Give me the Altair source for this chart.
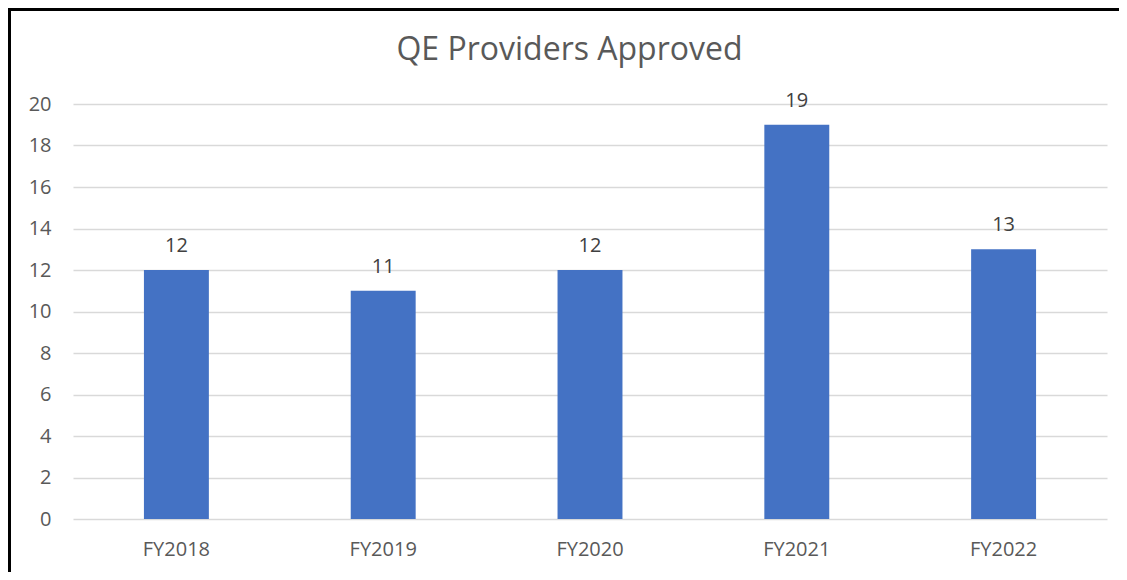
import altair as alt
import pandas as pd

years = ["FY2018", "FY2019", "FY2020", "FY2021", "FY2022"]
approved = [12, 11, 12, 19, 13]
title_text = ["QE Providers Approved"]

df = pd.DataFrame({"year": years, "count": approved})

FONT = "Open Sans"
W, H = 1034, 415
PAD_L, PAD_T, PAD_R, PAD_B = 65, 96, 12, 53

base = alt.Chart(df)

x_enc = alt.X(
    "year:N",
    sort=years,
    title=None,
    scale=alt.Scale(paddingInner=0.686, paddingOuter=0.343),
    axis=alt.Axis(
        labelAngle=0,
        labelFont=FONT,
        labelFontSize=20,
        labelColor="#595959",
        labelPadding=20,
        ticks=False,
        domain=False,
        grid=False,
    ),
)
y_enc = alt.Y(
    "count:Q",
    title=None,
    scale=alt.Scale(domain=[0, 20], nice=False),
    axis=alt.Axis(
        values=list(range(0, 21, 2)),
        labelFont=FONT,
        labelFontSize=20,
        labelColor="#595959",
        labelPadding=22,
        ticks=False,
        domain=False,
        grid=True,
        gridColor="#D9D9D9",
        gridWidth=1.3,
    ),
)

bars = base.mark_bar(color="#4472C4").encode(x=x_enc, y=y_enc)

labels = base.mark_text(
    font=FONT, fontSize=20, color="#404040", baseline="alphabetic", dy=-18
).encode(x=alt.X("year:N", sort=years), y="count:Q", text="count:Q")

frame_data = alt.Data(values=[{"k": 1}])
left_border = alt.Chart(frame_data).mark_rule(color="black", strokeWidth=3).encode(
    x=alt.value(-PAD_L + 1.5), y=alt.value(-PAD_T), y2=alt.value(H + PAD_B)
)
top_border = alt.Chart(frame_data).mark_rule(color="black", strokeWidth=3).encode(
    y=alt.value(-PAD_T + 1.5), x=alt.value(-PAD_L), x2=alt.value(W + PAD_R)
)

title_df = pd.DataFrame({"t": title_text})
title = alt.Chart(title_df).mark_text(
    font=FONT, fontSize=32, color="#595959", baseline="alphabetic", align="center"
).encode(x=alt.value(496.5), y=alt.value(-44), text="t:N")

chart = (
    alt.layer(bars, labels, left_border, top_border, title)
    .properties(
        width=W,
        height=H,
        background="white",
        autosize=alt.AutoSizeParams(type="none"),
        padding={"left": PAD_L, "top": PAD_T, "right": PAD_R, "bottom": PAD_B},
    )
    .configure_view(stroke="transparent", strokeWidth=0)
)

chart.save("out.html", embed_options={"renderer": "svg", "actions": False})
